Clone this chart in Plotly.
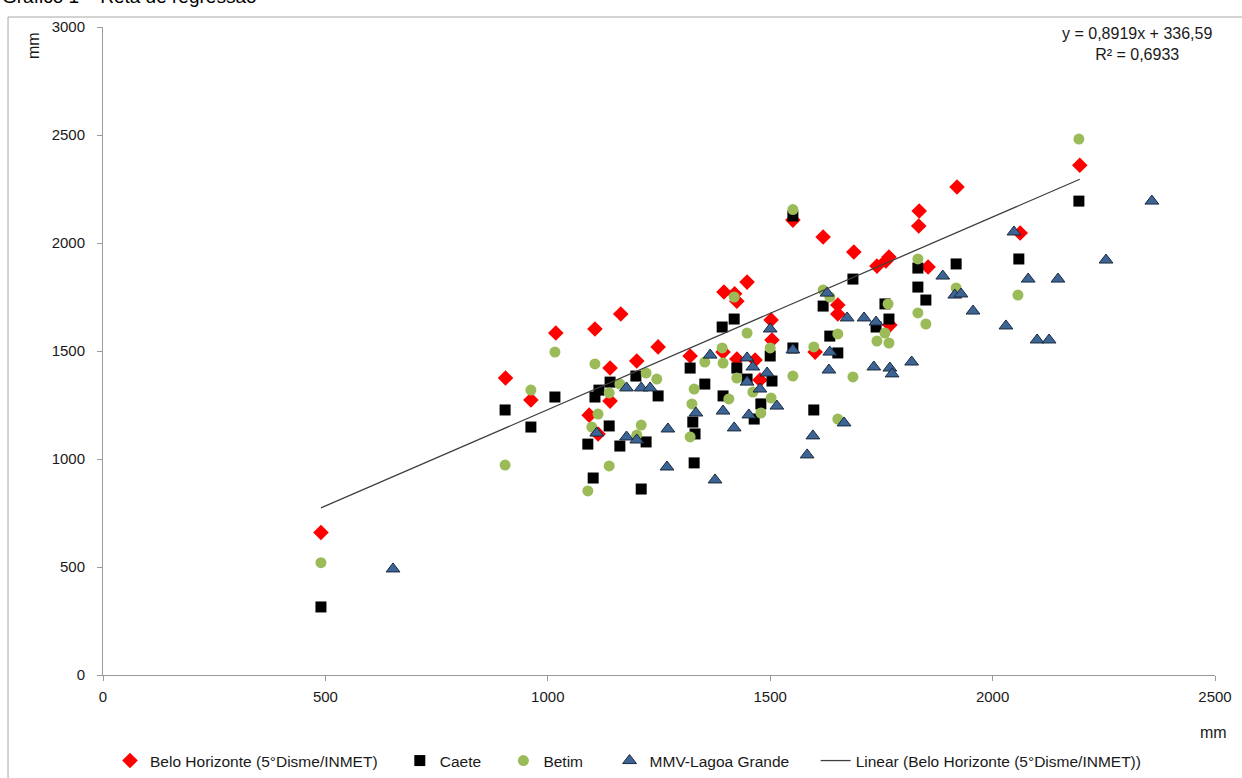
import plotly.graph_objects as go

# ---- data (mm) ----
bh_x = [490, 905, 962, 1018, 1106, 1164, 1093, 1113, 1140, 1140, 1200, 1248, 1320, 1396, 1420, 1425,
        1448, 1425, 1466, 1477, 1502, 1504, 1394, 1551, 1619, 1688, 1740, 1760, 1767, 1834, 1835,
        1855, 1920, 1652, 1652, 2062, 1601, 2196, 1769]
bh_y = [660, 1375, 1273, 1583, 1602, 1671, 1203, 1116, 1268, 1421, 1454, 1519, 1477, 1773, 1765, 1730,
        1819, 1463, 1458, 1366, 1644, 1551, 1495, 2106, 2028, 1958, 1893, 1917, 1935, 2079, 2148,
        1889, 2259, 1713, 1671, 2046, 1495, 2360, 1620]

caete_x = [490, 904, 962, 1016, 1106, 1115, 1140, 1198, 1248, 1138, 1090, 1162, 1221, 1102, 1210,
           1320, 1353, 1392, 1419, 1326, 1331, 1329, 1394, 1425, 1448, 1500, 1504, 1479, 1464, 1551,
           1686, 1832, 1918, 1832, 1850, 1619, 1758, 1767, 1738, 1634, 1652, 1551, 1598, 2059, 2194]
caete_y = [315, 1227, 1148, 1287, 1287, 1319, 1356, 1384, 1292, 1153, 1069, 1060, 1079, 912, 861,
           1421, 1347, 1611, 1648, 1171, 1116, 982, 1292, 1421, 1370, 1477, 1361, 1255, 1185, 2125,
           1833, 1884, 1903, 1796, 1736, 1708, 1718, 1648, 1611, 1569, 1491, 1514, 1227, 1926, 2194]

betim_x = [490, 904, 962, 1016, 1106, 1138, 1113, 1099, 1090, 1138, 1162, 1221, 1245, 1210, 1200,
           1320, 1329, 1324, 1353, 1394, 1392, 1419, 1448, 1425, 1407, 1500, 1502, 1479, 1461, 1551,
           1619, 1634, 1832, 1918, 2057, 1652, 1598, 1551, 1686, 1652, 1765, 1740, 1758, 1767, 1832,
           1850, 2194]
betim_y = [520, 972, 1319, 1495, 1440, 1306, 1208, 1148, 852, 968, 1347, 1398, 1370, 1157, 1111,
           1102, 1324, 1255, 1449, 1444, 1514, 1750, 1583, 1375, 1278, 1514, 1282, 1213, 1310, 2155,
           1782, 1750, 1926, 1792, 1759, 1579, 1519, 1384, 1380, 1185, 1718, 1546, 1583, 1537, 1676,
           1625, 2481]

mmv_x = [652, 1110, 1177, 1210, 1230, 1177, 1200, 1270, 1268, 1376, 1333, 1365, 1394, 1419, 1448,
         1461, 1493, 1477, 1500, 1452, 1515, 1448, 1628, 1673, 1711, 1738, 1888, 1915, 1929, 1956,
         2080, 2147, 2048, 2030, 2100, 2127, 1551, 1634, 1632, 1733, 1769, 1774, 1818, 1666, 1596,
         1583, 2255, 2358]
mmv_y = [491, 1120, 1329, 1329, 1329, 1102, 1088, 1139, 963, 903, 1213, 1481, 1222, 1144, 1468,
         1426, 1398, 1324, 1602, 1204, 1245, 1356, 1768, 1653, 1653, 1634, 1847, 1759, 1764, 1685,
         1833, 1833, 2051, 1616, 1551, 1551, 1505, 1495, 1412, 1426, 1421, 1394, 1449, 1167, 1107,
         1019, 1921, 2194]

trend_slope = 0.8919
trend_intercept = 336.59

x_ticks = [0, 500, 1000, 1500, 2000, 2500]
y_ticks = [0, 500, 1000, 1500, 2000, 2500, 3000]

FONT = "Liberation Sans, Arial, sans-serif"
PAD4 = "\u00a0" * 4
PAD5 = "\u00a0" * 5

fig = go.Figure()
fig.add_trace(go.Scatter(x=bh_x, y=bh_y, mode="markers", name="Belo Horizonte (5°Disme/INMET)" + PAD4,
                         marker=dict(symbol="diamond", size=12, color="#ff0000", line=dict(width=0))))
fig.add_trace(go.Scatter(x=caete_x, y=caete_y, mode="markers", name="Caete" + PAD4,
                         marker=dict(symbol="square", size=11, color="#000000", line=dict(width=0))))
fig.add_trace(go.Scatter(x=betim_x, y=betim_y, mode="markers", name="Betim" + PAD5,
                         marker=dict(symbol="circle", size=11, color="#9bbb59", line=dict(width=0))))
fig.add_trace(go.Scatter(x=mmv_x, y=mmv_y, mode="markers", name="MMV-Lagoa Grande" + PAD5,
                         marker=dict(symbol="triangle-up", size=12, color="#3c6494",
                                     line=dict(width=1, color="#1b2a3f"))))
tx = [min(bh_x), max(bh_x)]
ty = [trend_slope * v + trend_intercept for v in tx]
fig.add_trace(go.Scatter(x=tx, y=ty, mode="lines", name="Linear (Belo Horizonte (5°Disme/INMET))",
                         line=dict(color="#404040", width=1.3)))

axis_common = dict(showgrid=False, zeroline=False, showline=True, linecolor="#9a9a9a", linewidth=1,
                   ticks="outside", ticklen=5, tickcolor="#9a9a9a",
                   tickfont=dict(family=FONT, size=15, color="#1a1a1a"))

fig.update_layout(
    width=1242, height=778,
    margin=dict(l=103, r=27, t=27, b=103, autoexpand=False),
    paper_bgcolor="white", plot_bgcolor="white",
    font=dict(family=FONT, size=16, color="#1a1a1a"),
    xaxis=dict(range=[0, 2500], tickvals=x_ticks, ticklabelstandoff=3, **axis_common),
    yaxis=dict(range=[0, 3000], tickvals=y_ticks, ticklabelstandoff=9, **axis_common),
    legend=dict(orientation="h", x=0.0063, y=-0.1327, xanchor="left", yanchor="middle",
                font=dict(family=FONT, size=15.5, color="#1a1a1a"), bgcolor="rgba(0,0,0,0)",
                itemwidth=30, tracegroupgap=0),
    showlegend=True,
)

fig.add_annotation(text="y = 0,8919x + 336,59<br>R² = 0,6933", xref="paper", yref="paper",
                   x=0.930, y=0.9745, xanchor="center", yanchor="middle", showarrow=False,
                   font=dict(family=FONT, size=16, color="#1a1a1a"))
fig.add_annotation(text="mm", xref="paper", yref="paper", x=-0.063, y=0.972, textangle=-90,
                   xanchor="center", yanchor="middle", showarrow=False,
                   font=dict(family=FONT, size=16, color="#1a1a1a"))
fig.add_annotation(text="mm", xref="paper", yref="paper", x=0.999, y=-0.0895,
                   xanchor="center", yanchor="middle", showarrow=False,
                   font=dict(family=FONT, size=16, color="#1a1a1a"))
fig.add_annotation(text="Gráfico 1 – Reta de regressão", xref="paper", yref="paper", x=-0.0926, y=1.0278,
                   xanchor="left", yanchor="bottom", showarrow=False,
                   font=dict(family=FONT, size=19, color="#000000"))
fig.add_shape(type="rect", xref="paper", yref="paper", x0=-0.0854, x1=1.2, y0=-0.4, y1=1.0154,
              line=dict(color="#a6a6a6", width=1), fillcolor="rgba(0,0,0,0)", layer="below")

fig.write_html("out.html", config={"displayModeBar": False},
               post_script="document.body.style.margin='0';")
